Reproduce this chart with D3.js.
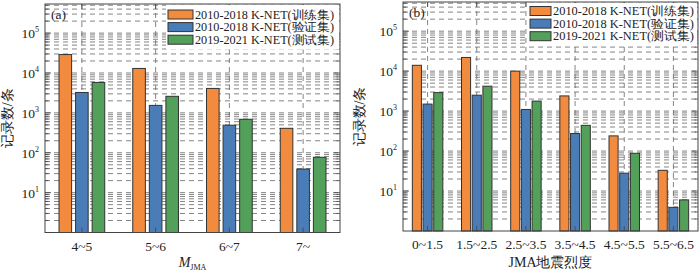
<!DOCTYPE html>
<html>
<head>
<meta charset="utf-8">
<script src="https://cdn.jsdelivr.net/npm/d3@7"></script>
<style>
  body { margin: 0; background: #fff; }
  text { font-family: "Liberation Serif", "Times New Roman", serif; fill: #222; }
</style>
</head>
<body>
<div id="chart"></div>
<script>
const seriesNames = ["2010-2018 K-NET(训练集)", "2010-2018 K-NET(验证集)", "2019-2021 K-NET(测试集)"];
const colors = ["#f28b3e", "#4a7db8", "#52a05a"];

const magCats = ["4~5", "5~6", "6~7", "7~"];
const magTrain = [29000, 13000, 4100, 410];
const magVal = [3250, 1540, 490, 39];
const magTest = [5800, 2600, 690, 77];

const intCats = ["0~1.5", "1.5~2.5", "2.5~3.5", "3.5~4.5", "4.5~5.5", "5.5~6.5"];
const intTrain = [14000, 22000, 10000, 2400, 240, 33];
const intVal = [1500, 2500, 1100, 275, 28, 3.9];
const intTest = [2900, 4200, 1780, 440, 88, 6];

const yMajor = [10, 100, 1000, 10000, 100000];
const yMax = Math.pow(10, 5.73);

const svg = d3.select("#chart").append("svg")
    .attr("width", 700)
    .attr("height", 271);

function drawPanel(p) {
    const g = svg.append("g");
    const y = d3.scaleLog().domain([1, yMax]).range([p.bottom, p.top]);
    const x0 = d3.scaleBand().domain(p.cats).range([p.left, p.right]);
    const x1 = d3.scaleBand().domain([0, 1, 2])
        .range([x0.bandwidth() * 0.19, x0.bandwidth() * 0.81])
        .paddingInner(p.pad);

    // minor values for grid
    let minors = [];
    for (let k = 0; k <= 5; k++) {
        for (let m = 1; m <= 9; m++) {
            const v = m * Math.pow(10, k);
            if (v > 1 && v < yMax) minors.push(v);
        }
    }

    // horizontal dashed grid
    g.selectAll(".hg").data(minors).join("line")
        .attr("x1", p.left).attr("x2", p.right)
        .attr("y1", d => y(d)).attr("y2", d => y(d))
        .attr("stroke", "#666")
        .attr("stroke-width", 0.8)
        .attr("stroke-dasharray", "5,4");

    // vertical dashed grid
    g.selectAll(".vg").data(p.cats).join("line")
        .attr("x1", d => x0(d) + x0.bandwidth() / 2)
        .attr("x2", d => x0(d) + x0.bandwidth() / 2)
        .attr("y1", p.top).attr("y2", p.bottom)
        .attr("stroke", "#666")
        .attr("stroke-width", 0.8)
        .attr("stroke-dasharray", "5,4");

    // bars
    const series = [p.train, p.val, p.test];
    series.forEach((vals, si) => {
        g.selectAll(".bar" + si).data(vals).join("rect")
            .attr("x", (d, i) => x0(p.cats[i]) + x1(si))
            .attr("width", x1.bandwidth())
            .attr("y", d => y(d))
            .attr("height", d => p.bottom - y(d))
            .attr("fill", colors[si])
            .attr("stroke", "#333")
            .attr("stroke-width", 1);
    });

    // y ticks (inward, both sides)
    const tickG = g.append("g");
    minors.forEach(v => {
        const major = yMajor.includes(v);
        const len = major ? 6 : 3.5;
        tickG.append("line").attr("x1", p.left).attr("x2", p.left + len)
            .attr("y1", y(v)).attr("y2", y(v)).attr("stroke", "#444").attr("stroke-width", 0.8);
        tickG.append("line").attr("x1", p.right).attr("x2", p.right - len)
            .attr("y1", y(v)).attr("y2", y(v)).attr("stroke", "#444").attr("stroke-width", 0.8);
    });
    // x ticks inward
    p.cats.forEach(c => {
        const cx = x0(c) + x0.bandwidth() / 2;
        tickG.append("line").attr("x1", cx).attr("x2", cx)
            .attr("y1", p.bottom).attr("y2", p.bottom - 5).attr("stroke", "#444").attr("stroke-width", 0.8);
        tickG.append("line").attr("x1", cx).attr("x2", cx)
            .attr("y1", p.top).attr("y2", p.top + 5).attr("stroke", "#444").attr("stroke-width", 0.8);
    });

    // frame
    g.append("rect")
        .attr("x", p.left).attr("y", p.top)
        .attr("width", p.right - p.left).attr("height", p.bottom - p.top)
        .attr("fill", "none").attr("stroke", "#444").attr("stroke-width", 1);

    // y tick labels
    yMajor.forEach(v => {
        const t = g.append("text")
            .attr("x", p.left - 6)
            .attr("y", y(v) + 5)
            .attr("text-anchor", "end")
            .attr("font-size", 13.5);
        t.append("tspan").text("10");
        t.append("tspan").attr("font-size", 8).attr("dy", -6).text(Math.log10(v));
    });

    // x tick labels
    p.cats.forEach(c => {
        g.append("text")
            .attr("x", x0(c) + x0.bandwidth() / 2)
            .attr("y", p.bottom + 18)
            .attr("text-anchor", "middle")
            .attr("font-size", 13.5)
            .text(c);
    });

    // y label
    g.append("text")
        .attr("transform", `translate(${p.left - p.yLabOff}, ${(p.top + p.bottom) / 2}) rotate(-90)`)
        .attr("text-anchor", "middle")
        .attr("font-size", 14)
        .text("记录数/条");

    // x label
    const xl = g.append("text")
        .attr("x", (p.left + p.right) / 2)
        .attr("y", 267)
        .attr("text-anchor", "middle")
        .attr("font-size", 14);
    if (p.italicLabel) {
        xl.append("tspan").attr("font-style", "italic").text("M");
        xl.append("tspan").attr("font-size", 8).attr("dy", 3).text("JMA");
    } else {
        xl.text(p.xLabel);
    }

    // panel label
    g.append("text")
        .attr("x", p.left + 6)
        .attr("y", p.top + 15)
        .attr("font-size", 13.5)
        .text(p.tag);

    // legend
    const lg = g.append("g");
    lg.append("rect")
        .attr("x", p.legX - 2).attr("y", p.top + 1)
        .attr("width", p.right - p.legX + 1).attr("height", p.legY + 34)
        .attr("fill", "#fff");
    seriesNames.forEach((s, i) => {
        const yy = p.top + p.legY + i * 12.6;
        lg.append("rect")
            .attr("x", p.legX).attr("y", yy - 4.5)
            .attr("width", p.swW).attr("height", 9)
            .attr("fill", colors[i]).attr("stroke", "#333").attr("stroke-width", 1);
        lg.append("text")
            .attr("x", p.legX + p.swW + 2)
            .attr("y", yy + 4)
            .attr("font-size", 11.5)
            .attr("textLength", p.legTextW)
            .attr("lengthAdjust", "spacingAndGlyphs")
            .text(s);
    });
}

drawPanel({
    left: 45, right: 340, top: 4, bottom: 232.5,
    cats: magCats, train: magTrain, val: magVal, test: magTest,
    pad: 0.24, tag: "(a)", italicLabel: true,
    legX: 168, swW: 25, legY: 10.5, yLabOff: 33, legTextW: 139
});

drawPanel({
    left: 403, right: 698, top: 2, bottom: 231,
    cats: intCats, train: intTrain, val: intVal, test: intTest,
    pad: 0.15, tag: "(b)", italicLabel: false, xLabel: "JMA地震烈度",
    legX: 530, swW: 21, legY: 9, yLabOff: 39, legTextW: 141
});
</script>
</body>
</html>
